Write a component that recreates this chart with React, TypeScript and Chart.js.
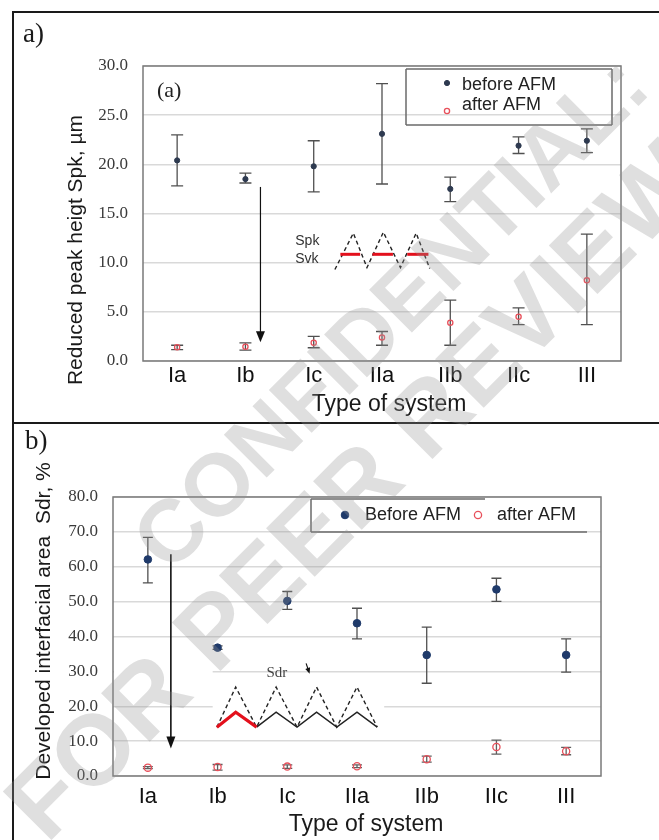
import React, { useEffect, useRef } from 'react';
import { Chart, registerables } from 'chart.js';
Chart.register(...registerables);

// ---------- data ----------
const categories = ['Ia', 'Ib', 'Ic', 'IIa', 'IIb', 'IIc', 'III'];

const spkTicks = [0, 5, 10, 15, 20, 25, 30];
const spkBefore = [20.4, 18.5, 19.8, 23.1, 17.5, 21.9, 22.4];
const spkBeforeLow = [17.8, 18.1, 17.2, 18.0, 16.2, 21.1, 21.2];
const spkBeforeHigh = [23.0, 19.1, 22.4, 28.2, 18.7, 22.8, 23.6];
const spkAfter = [1.4, 1.45, 1.85, 2.4, 3.9, 4.5, 8.2];
const spkAfterLow = [1.15, 1.1, 1.35, 1.6, 1.6, 3.7, 3.7];
const spkAfterHigh = [1.6, 1.85, 2.5, 3.0, 6.2, 5.4, 12.9];

const sdrTicks = [0, 10, 20, 30, 40, 50, 60, 70, 80];
const sdrBefore = [62.1, 36.8, 50.2, 43.8, 34.7, 53.5, 34.7];
const sdrBeforeLow = [55.4, 36.3, 47.8, 39.3, 26.6, 50.1, 29.8];
const sdrBeforeHigh = [68.4, 37.3, 52.9, 48.1, 42.7, 56.7, 39.3];
const sdrAfter = [2.4, 2.6, 2.7, 2.8, 4.8, 8.3, 7.1];
const sdrAfterLow = [2.1, 1.7, 2.2, 2.4, 4.0, 6.3, 6.1];
const sdrAfterHigh = [2.7, 3.3, 3.2, 3.2, 5.7, 10.3, 8.2];

const seriesLabelsTop = ['before AFM', 'after AFM'];
const seriesLabelsBottom = ['Before AFM', 'after AFM'];

const SANS = '"Liberation Sans", Arial, sans-serif';
const SERIF = '"Liberation Serif", "Times New Roman", serif';

// ---------- helpers ----------
function polyline(ctx: any, x: any, y: any, pts: number[][]) {
  ctx.beginPath();
  pts.forEach((p, i) => {
    const px = x.getPixelForValue(p[0]);
    const py = y.getPixelForValue(p[1]);
    if (i === 0) ctx.moveTo(px, py);
    else ctx.lineTo(px, py);
  });
  ctx.stroke();
}

function arrow(ctx: any, x1: number, y1: number, x2: number, y2: number, lw: number, hw: number, hl: number) {
  const ang = Math.atan2(y2 - y1, x2 - x1);
  ctx.save();
  ctx.strokeStyle = '#111';
  ctx.fillStyle = '#111';
  ctx.lineWidth = lw;
  ctx.beginPath();
  ctx.moveTo(x1, y1);
  ctx.lineTo(x2 - Math.cos(ang) * hl * 0.8, y2 - Math.sin(ang) * hl * 0.8);
  ctx.stroke();
  ctx.translate(x2, y2);
  ctx.rotate(ang);
  ctx.beginPath();
  ctx.moveTo(0, 0);
  ctx.lineTo(-hl, -hw / 2);
  ctx.lineTo(-hl, hw / 2);
  ctx.closePath();
  ctx.fill();
  ctx.restore();
}

function makeDecor(cfg: any) {
  return {
    id: 'decor',
    beforeDatasetsDraw(chart: any) {
      const { ctx, chartArea } = chart;
      const x = chart.scales.x;
      const y = chart.scales.y;
      ctx.save();
      (cfg.gridGaps || []).forEach((g: any) => {
        const py = y.getPixelForValue(g.v);
        const x0 = g.from === null ? chartArea.left + 1 : x.getPixelForValue(g.from);
        const x1 = x.getPixelForValue(g.to);
        ctx.fillStyle = '#ffffff';
        ctx.fillRect(x0, py - 2, x1 - x0, 4);
      });
      cfg.errors.forEach((e: any) => {
        ctx.strokeStyle = e.color;
        ctx.lineWidth = e.width;
        e.low.forEach((lo: number, i: number) => {
          const px = x.getPixelForValue(i);
          const p1 = y.getPixelForValue(lo);
          const p2 = y.getPixelForValue(e.high[i]);
          ctx.beginPath();
          ctx.moveTo(px, p1);
          ctx.lineTo(px, p2);
          ctx.moveTo(px - cfg.cap, p1);
          ctx.lineTo(px + cfg.cap, p1);
          ctx.moveTo(px - cfg.cap, p2);
          ctx.lineTo(px + cfg.cap, p2);
          ctx.stroke();
        });
      });
      ctx.restore();
    },
    afterDraw(chart: any) {
      const { ctx, chartArea } = chart;
      const x = chart.scales.x;
      const y = chart.scales.y;
      ctx.save();
      // plot frame
      ctx.strokeStyle = '#7a7a7a';
      ctx.lineWidth = 1.5;
      ctx.strokeRect(chartArea.left, chartArea.top, chartArea.right - chartArea.left, chartArea.bottom - chartArea.top);

      cfg.inset(ctx, x, y, chartArea);

      // legend
      const ds = chart.data.datasets;
      const L = cfg.legend;
      ctx.strokeStyle = '#6a6a6a';
      ctx.lineWidth = 1.5;
      L.lines.forEach((l: number[]) => {
        ctx.beginPath();
        ctx.moveTo(l[0], l[1]);
        ctx.lineTo(l[2], l[3]);
        ctx.stroke();
      });
      L.items.forEach((it: any, i: number) => {
        const d = ds[i];
        ctx.beginPath();
        ctx.arc(it.mx, it.my, d.pointRadius, 0, Math.PI * 2);
        if (d.pointBackgroundColor !== 'rgba(0,0,0,0)') {
          ctx.fillStyle = d.pointBackgroundColor;
          ctx.fill();
        }
        ctx.strokeStyle = d.pointBorderColor;
        ctx.lineWidth = d.pointBorderWidth;
        ctx.stroke();
        ctx.fillStyle = '#222';
        ctx.font = `18px ${SANS}`;
        ctx.textAlign = 'left';
        ctx.textBaseline = 'middle';
        ctx.fillText(d.label, it.tx, it.ty);
      });

      // axis titles
      ctx.fillStyle = '#1a1a1a';
      ctx.font = `21px ${SANS}`;
      ctx.textAlign = 'center';
      ctx.textBaseline = 'middle';
      ctx.save();
      ctx.translate(cfg.yTitle.x, cfg.yTitle.y);
      ctx.rotate(-Math.PI / 2);
      ctx.fillText(cfg.yTitle.text, 0, 0);
      ctx.restore();
      ctx.font = `23px ${SANS}`;
      ctx.fillText(cfg.xTitle.text, cfg.xTitle.x, cfg.xTitle.y);

      // panel label
      ctx.font = `27px ${SERIF}`;
      ctx.textAlign = 'left';
      ctx.fillStyle = '#1a1a1a';
      ctx.fillText(cfg.panel.text, cfg.panel.x, cfg.panel.y);
      ctx.restore();
    },
  };
}

function buildConfig(cfg: any) {
  return {
    type: 'line',
    data: {
      labels: categories,
      datasets: [
        {
          label: cfg.labels[0],
          data: cfg.before,
          showLine: false,
          pointRadius: cfg.rBefore,
          pointBackgroundColor: cfg.beforeColor,
          pointBorderColor: cfg.beforeColor,
          pointBorderWidth: 1,
        },
        {
          label: cfg.labels[1],
          data: cfg.after,
          showLine: false,
          pointRadius: cfg.rAfter,
          pointBackgroundColor: 'rgba(0,0,0,0)',
          pointBorderColor: '#e8505b',
          pointBorderWidth: 1.3,
        },
      ],
    },
    options: {
      responsive: false,
      animation: false,
      devicePixelRatio: 1,
      layout: { padding: cfg.padding },
      plugins: { legend: { display: false }, tooltip: { enabled: false } },
      scales: {
        x: {
          type: 'category',
          offset: true,
          grid: { display: false, drawTicks: false },
          border: { display: false },
          ticks: { font: { family: SANS, size: 22 }, color: '#111', padding: cfg.xTickPad, maxRotation: 0 },
          afterFit: (s: any) => { s.height = cfg.xHeight; },
        },
        y: {
          min: cfg.ticks[0],
          max: cfg.ticks[cfg.ticks.length - 1],
          afterBuildTicks: (s: any) => { s.ticks = cfg.ticks.map((v: number) => ({ value: v })); },
          grid: { color: '#d9d9d9', lineWidth: 1.5, drawTicks: false },
          border: { display: false },
          ticks: {
            font: { family: SERIF, size: 17 },
            color: '#3a3a3a',
            padding: 15,
            callback: (v: any) => Number(v).toFixed(1),
          },
          afterFit: (s: any) => { s.width = cfg.yWidth; },
        },
      },
    },
    plugins: [makeDecor(cfg)],
  };
}

const topCfg = {
  labels: seriesLabelsTop,
  before: spkBefore,
  after: spkAfter,
  ticks: spkTicks,
  rBefore: 2.6,
  rAfter: 2.6,
  beforeColor: '#2e3a50',
  padding: { left: 0, top: 66, right: 38, bottom: 22 },
  yWidth: 143,
  xHeight: 40,
  xTickPad: 2,
  cap: 6,
  errors: [
    { low: spkBeforeLow, high: spkBeforeHigh, color: '#505050', width: 1.3 },
    { low: spkAfterLow, high: spkAfterHigh, color: '#505050', width: 1.3 },
  ],
  yTitle: { text: 'Reduced peak heigt Spk, µm', x: 76, y: 250 },
  xTitle: { text: 'Type of system', x: 389, y: 405 },
  panel: { text: 'a)', x: 23, y: 35 },
  legend: {
    lines: [[406, 69, 612, 69], [612, 69, 612, 125], [612, 125, 406, 125], [406, 125, 406, 69]],
    items: [
      { mx: 447, my: 83, tx: 462, ty: 85 },
      { mx: 447, my: 111, tx: 462, ty: 105 },
    ],
  },
  inset: (ctx: any, x: any, y: any, area: any) => {
    // "(a)"
    ctx.fillStyle = '#222';
    ctx.font = `22px ${SERIF}`;
    ctx.textAlign = 'left';
    ctx.textBaseline = 'middle';
    ctx.fillText('(a)', area.left + 14, area.top + 25);
    // Spk / Svk labels
    ctx.font = `14px ${SANS}`;
    ctx.fillStyle = '#333';
    ctx.fillText('Spk', x.getPixelForValue(1.73), y.getPixelForValue(12.2));
    ctx.fillText('Svk', x.getPixelForValue(1.73), y.getPixelForValue(10.4));
    // dashed profile
    ctx.strokeStyle = '#222';
    ctx.lineWidth = 1.4;
    ctx.setLineDash([4, 3]);
    polyline(ctx, x, y, [[2.31, 9.3], [2.58, 13.0], [2.78, 9.5], [3.02, 13.1], [3.27, 9.5], [3.5, 13.0], [3.7, 9.4]]);
    ctx.setLineDash([]);
    // red core bars
    ctx.strokeStyle = '#e3101c';
    ctx.lineWidth = 3;
    [[2.39, 2.68], [2.86, 3.16], [3.37, 3.68]].forEach((b) => polyline(ctx, x, y, [[b[0], 10.85], [b[1], 10.85]]));
    // arrow
    arrow(ctx, x.getPixelForValue(1.22), y.getPixelForValue(17.7), x.getPixelForValue(1.22), y.getPixelForValue(1.9), 1.2, 9, 11);
  },
};

const bottomCfg = {
  labels: seriesLabelsBottom,
  before: sdrBefore,
  after: sdrAfter,
  ticks: sdrTicks,
  rBefore: 3.8,
  rAfter: 3.6,
  beforeColor: '#1f3a6a',
  padding: { left: 0, top: 74, right: 58, bottom: 24 },
  yWidth: 113,
  xHeight: 40,
  xTickPad: 8,
  cap: 5,
  errors: [
    { low: sdrBeforeLow, high: sdrBeforeHigh, color: '#505050', width: 1.3 },
    { low: sdrAfterLow, high: sdrAfterHigh, color: '#606060', width: 1.3 },
  ],
  gridGaps: [
    { v: 30, from: null, to: 0.93 },
    { v: 20, from: 0.93, to: 3.39 },
  ],
  yTitle: { text: 'Developed interfacial area  Sdr, %', x: 44, y: 198 },
  xTitle: { text: 'Type of system', x: 366, y: 402 },
  panel: { text: 'b)', x: 25, y: 19 },
  legend: {
    lines: [[311, 76, 485, 76], [311, 76, 311, 109], [311, 109, 587, 109]],
    items: [
      { mx: 345, my: 92, tx: 365, ty: 92 },
      { mx: 478, my: 92, tx: 497, ty: 92 },
    ],
  },
  inset: (ctx: any, x: any, y: any) => {
    ctx.fillStyle = '#444';
    ctx.font = `15px ${SERIF}`;
    ctx.textAlign = 'center';
    ctx.textBaseline = 'middle';
    ctx.fillText('Sdr', x.getPixelForValue(1.85), y.getPixelForValue(29.5));
    // dashed original profile
    ctx.strokeStyle = '#222';
    ctx.lineWidth = 1.4;
    ctx.setLineDash([4, 3]);
    polyline(ctx, x, y, [[0.99, 14], [1.26, 25.5], [1.56, 14], [1.84, 25.5], [2.14, 14], [2.42, 25.5], [2.71, 14], [3.0, 25.5], [3.29, 14]]);
    ctx.setLineDash([]);
    // worn profile
    ctx.lineWidth = 1.5;
    ctx.strokeStyle = '#222';
    polyline(ctx, x, y, [[1.56, 14], [1.84, 18.3], [2.14, 14], [2.42, 18.3], [2.71, 14], [3.0, 18.3], [3.29, 14]]);
    ctx.strokeStyle = '#e3101c';
    ctx.lineWidth = 3.2;
    polyline(ctx, x, y, [[0.99, 14], [1.26, 18.3], [1.56, 14]]);
    // small pointer arrow
    arrow(ctx, x.getPixelForValue(2.27), y.getPixelForValue(32.3), x.getPixelForValue(2.32), y.getPixelForValue(29.3), 1.1, 5, 6);
    // main arrow
    arrow(ctx, x.getPixelForValue(0.33), y.getPixelForValue(63.6), x.getPixelForValue(0.33), y.getPixelForValue(7.9), 1.6, 9, 12);
  },
};

function Panel({ cfg, top, height }: any) {
  const ref = useRef<HTMLCanvasElement | null>(null);
  useEffect(() => {
    if (!ref.current) return;
    const chart = new Chart(ref.current, buildConfig(cfg) as any);
    return () => chart.destroy();
  }, []);
  return (
    <canvas
      ref={ref}
      width={659}
      height={height}
      style={{ position: 'absolute', left: 0, top, width: 659, height, display: 'block' }}
    />
  );
}

const wmStyle: any = {
  position: 'absolute',
  transform: 'translate(-50%, -50%) rotate(-45deg)',
  whiteSpace: 'nowrap',
  fontFamily: SANS,
  fontWeight: 'bold',
  fontSize: 88,
  color: 'rgba(150,150,150,0.3)',
  pointerEvents: 'none',
  lineHeight: 1,
};

export default function App() {
  return (
    <div style={{ position: 'absolute', left: 0, top: 0, width: 659, height: 840, background: '#fff', overflow: 'hidden' }}>
      <Panel cfg={topCfg} top={0} height={423} />
      <Panel cfg={bottomCfg} top={423} height={417} />
      <div style={{ position: 'absolute', left: 12, top: 11, width: 647, height: 2, background: '#1a1a1a' }} />
      <div style={{ position: 'absolute', left: 12, top: 11, width: 2, height: 829, background: '#1a1a1a' }} />
      <div style={{ position: 'absolute', left: 12, top: 422, width: 647, height: 2, background: '#1a1a1a' }} />
      <div style={{ ...wmStyle, left: 390, top: 312 }}>CONFIDENTIAL:</div>
      <div style={{ ...wmStyle, left: 352, top: 490, fontSize: 100 }}>FOR PEER REVIEW</div>
    </div>
  );
}
